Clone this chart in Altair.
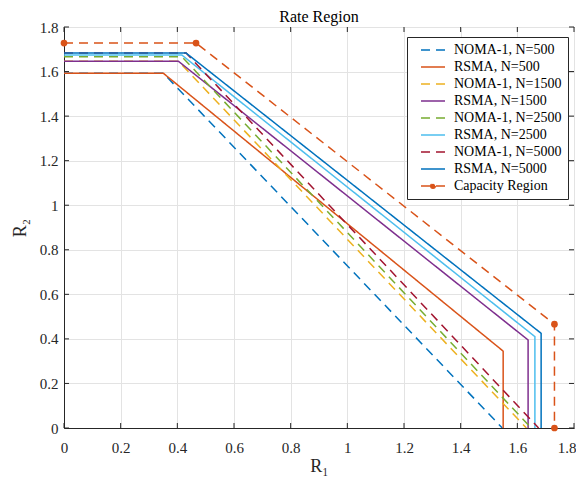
import altair as alt
import pandas as pd

# ---------------- data ----------------
series = ["NOMA-1, N=500", "RSMA, N=500", "NOMA-1, N=1500", "RSMA, N=1500",
          "NOMA-1, N=2500", "RSMA, N=2500", "NOMA-1, N=5000", "RSMA, N=5000",
          "Capacity Region"]
colors = ["#0072BD", "#D95319", "#EDB120", "#7E2F8E", "#77AC30",
          "#4DBEEE", "#A2142F", "#0072BD", "#D95319"]
dashes = [[9, 6], [1, 0], [9, 6], [1, 0], [9, 6], [1, 0], [9, 6], [1, 0], [9, 6]]
widths = [1.5, 1.5, 1.5, 1.5, 1.5, 1.5, 1.5, 1.5, 2.2]

noma500_x = [0, 0.351, 1.547]
noma500_y = [1.592, 1.592, 0]
rsma500_x = [0, 0.351, 1.550, 1.550]
rsma500_y = [1.592, 1.592, 0.345, 0]
noma1500_x = [0, 0.404, 1.632]
noma1500_y = [1.646, 1.646, 0]
rsma1500_x = [0, 0.404, 1.638, 1.638]
rsma1500_y = [1.646, 1.646, 0.395, 0]
noma2500_x = [0, 0.416, 1.649]
noma2500_y = [1.667, 1.667, 0]
rsma2500_x = [0, 0.416, 1.662, 1.662]
rsma2500_y = [1.674, 1.674, 0.410, 0]
noma5000_x = [0, 0.431, 1.675]
noma5000_y = [1.683, 1.683, 0]
rsma5000_x = [0, 0.431, 1.684, 1.684]
rsma5000_y = [1.683, 1.683, 0.425, 0]
cap_x = [0, 0.466, 1.731, 1.731]
cap_y = [1.728, 1.728, 0.466, 0]

xticks = [0, 0.2, 0.4, 0.6, 0.8, 1, 1.2, 1.4, 1.6, 1.8]
yticks = [0, 0.2, 0.4, 0.6, 0.8, 1, 1.2, 1.4, 1.6, 1.8]

all_x = [noma500_x, rsma500_x, noma1500_x, rsma1500_x, noma2500_x,
         rsma2500_x, noma5000_x, rsma5000_x, cap_x]
all_y = [noma500_y, rsma500_y, noma1500_y, rsma1500_y, noma2500_y,
         rsma2500_y, noma5000_y, rsma5000_y, cap_y]

rows = []
for s, xs, ys in zip(series, all_x, all_y):
    for i, (xv, yv) in enumerate(zip(xs, ys)):
        rows.append({"series": s, "x": xv, "y": yv, "ord": i})
df = pd.DataFrame(rows)
cap_df = df[df["series"] == "Capacity Region"]
xt_df = pd.DataFrame({"x": xticks})
yt_df = pd.DataFrame({"y": yticks})

W, H = 510, 401
FONT = "Liberation Serif"
AX = "#262626"

xscale = alt.Scale(domain=[0, 1.8], nice=False, zero=False)
yscale = alt.Scale(domain=[0, 1.8], nice=False, zero=False)
last_x = xticks[-1]
xaxis = alt.Axis(values=xticks, format="~g", title="R₁", grid=True,
                 tickSize=0, labelPadding=12, titlePadding=2, labelFlush=False,
                 labelAlign={"expr": f"datum.value >= {last_x} ? 'right' : 'center'"},
                 labelOffset={"expr": f"datum.value >= {last_x} ? 2 : 0"})
yaxis = alt.Axis(values=yticks, format="~g", title="R₂", grid=True,
                 tickSize=0, labelPadding=6, titlePadding=10, labelFlush=False)
X = alt.X("x:Q", scale=xscale, axis=xaxis)
Y = alt.Y("y:Q", scale=yscale, axis=yaxis)

LINE_PATH = "M-2,0L2,0"
CAP_PATH = "M-2,0L2,0M0.38,0A0.38,0.38 0 1,1 -0.38,0A0.38,0.38 0 1,1 0.38,0Z"
cap_name = series[-1]
is_cap = f"datum.value == '{cap_name}'"

legend = alt.Legend(
    title=None, orient="none", legendX=343, legendY=10,
    fillColor="white", strokeColor=AX, padding=6,
    labelFont=FONT, labelFontSize=14, labelColor="black",
    symbolType={"expr": f"{is_cap} ? '{CAP_PATH}' : '{LINE_PATH}'"},
    symbolFillColor={"expr": f"{is_cap} ? '#D95319' : 'transparent'"},
    symbolSize=144, symbolStrokeWidth=1.5,
    symbolOffset=13, rowPadding=3, labelOffset=14,
)

lines = alt.Chart(df).mark_line(clip=True).encode(
    x=X, y=Y,
    color=alt.Color("series:N", scale=alt.Scale(domain=series, range=colors),
                    legend=legend),
    strokeDash=alt.StrokeDash("series:N",
                              scale=alt.Scale(domain=series, range=dashes),
                              legend=legend),
    strokeWidth=alt.StrokeWidth("series:N",
                                scale=alt.Scale(domain=series, range=widths),
                                legend=None),
    order="ord:Q",
)

pts = alt.Chart(cap_df).mark_point(filled=True, size=45, opacity=1,
                                   color="#D95319", clip=False).encode(x=X, y=Y)

tick_len = 5
xt_bot = alt.Chart(xt_df).mark_rule(color=AX, strokeWidth=1).encode(
    x=X, y=alt.value(H), y2=alt.value(H - tick_len))
xt_top = alt.Chart(xt_df).mark_rule(color=AX, strokeWidth=1).encode(
    x=X, y=alt.value(0), y2=alt.value(tick_len))
yt_l = alt.Chart(yt_df).mark_rule(color=AX, strokeWidth=1).encode(
    y=Y, x=alt.value(0), x2=alt.value(tick_len))
yt_r = alt.Chart(yt_df).mark_rule(color=AX, strokeWidth=1).encode(
    y=Y, x=alt.value(W), x2=alt.value(W - tick_len))

chart = alt.layer(lines, pts, xt_bot, xt_top, yt_l, yt_r).properties(
    width=W, height=H,
    title=alt.TitleParams("Rate Region", font=FONT, fontSize=16,
                          fontWeight="normal", color="black", offset=-5),
    autosize=alt.AutoSizeParams(type="none"),
    padding={"left": 56, "top": 19, "right": 2, "bottom": 48},
).configure_view(
    stroke=AX, strokeWidth=1,
).configure_axis(
    domainColor=AX, labelColor=AX, labelFont=FONT, labelFontSize=15,
    titleFont=FONT, titleFontSize=18, titleFontWeight="normal", titleColor=AX,
    gridColor="#e3e3e3", gridWidth=1,
)

chart.save("out.html", embed_options={"renderer": "svg", "actions": False})
